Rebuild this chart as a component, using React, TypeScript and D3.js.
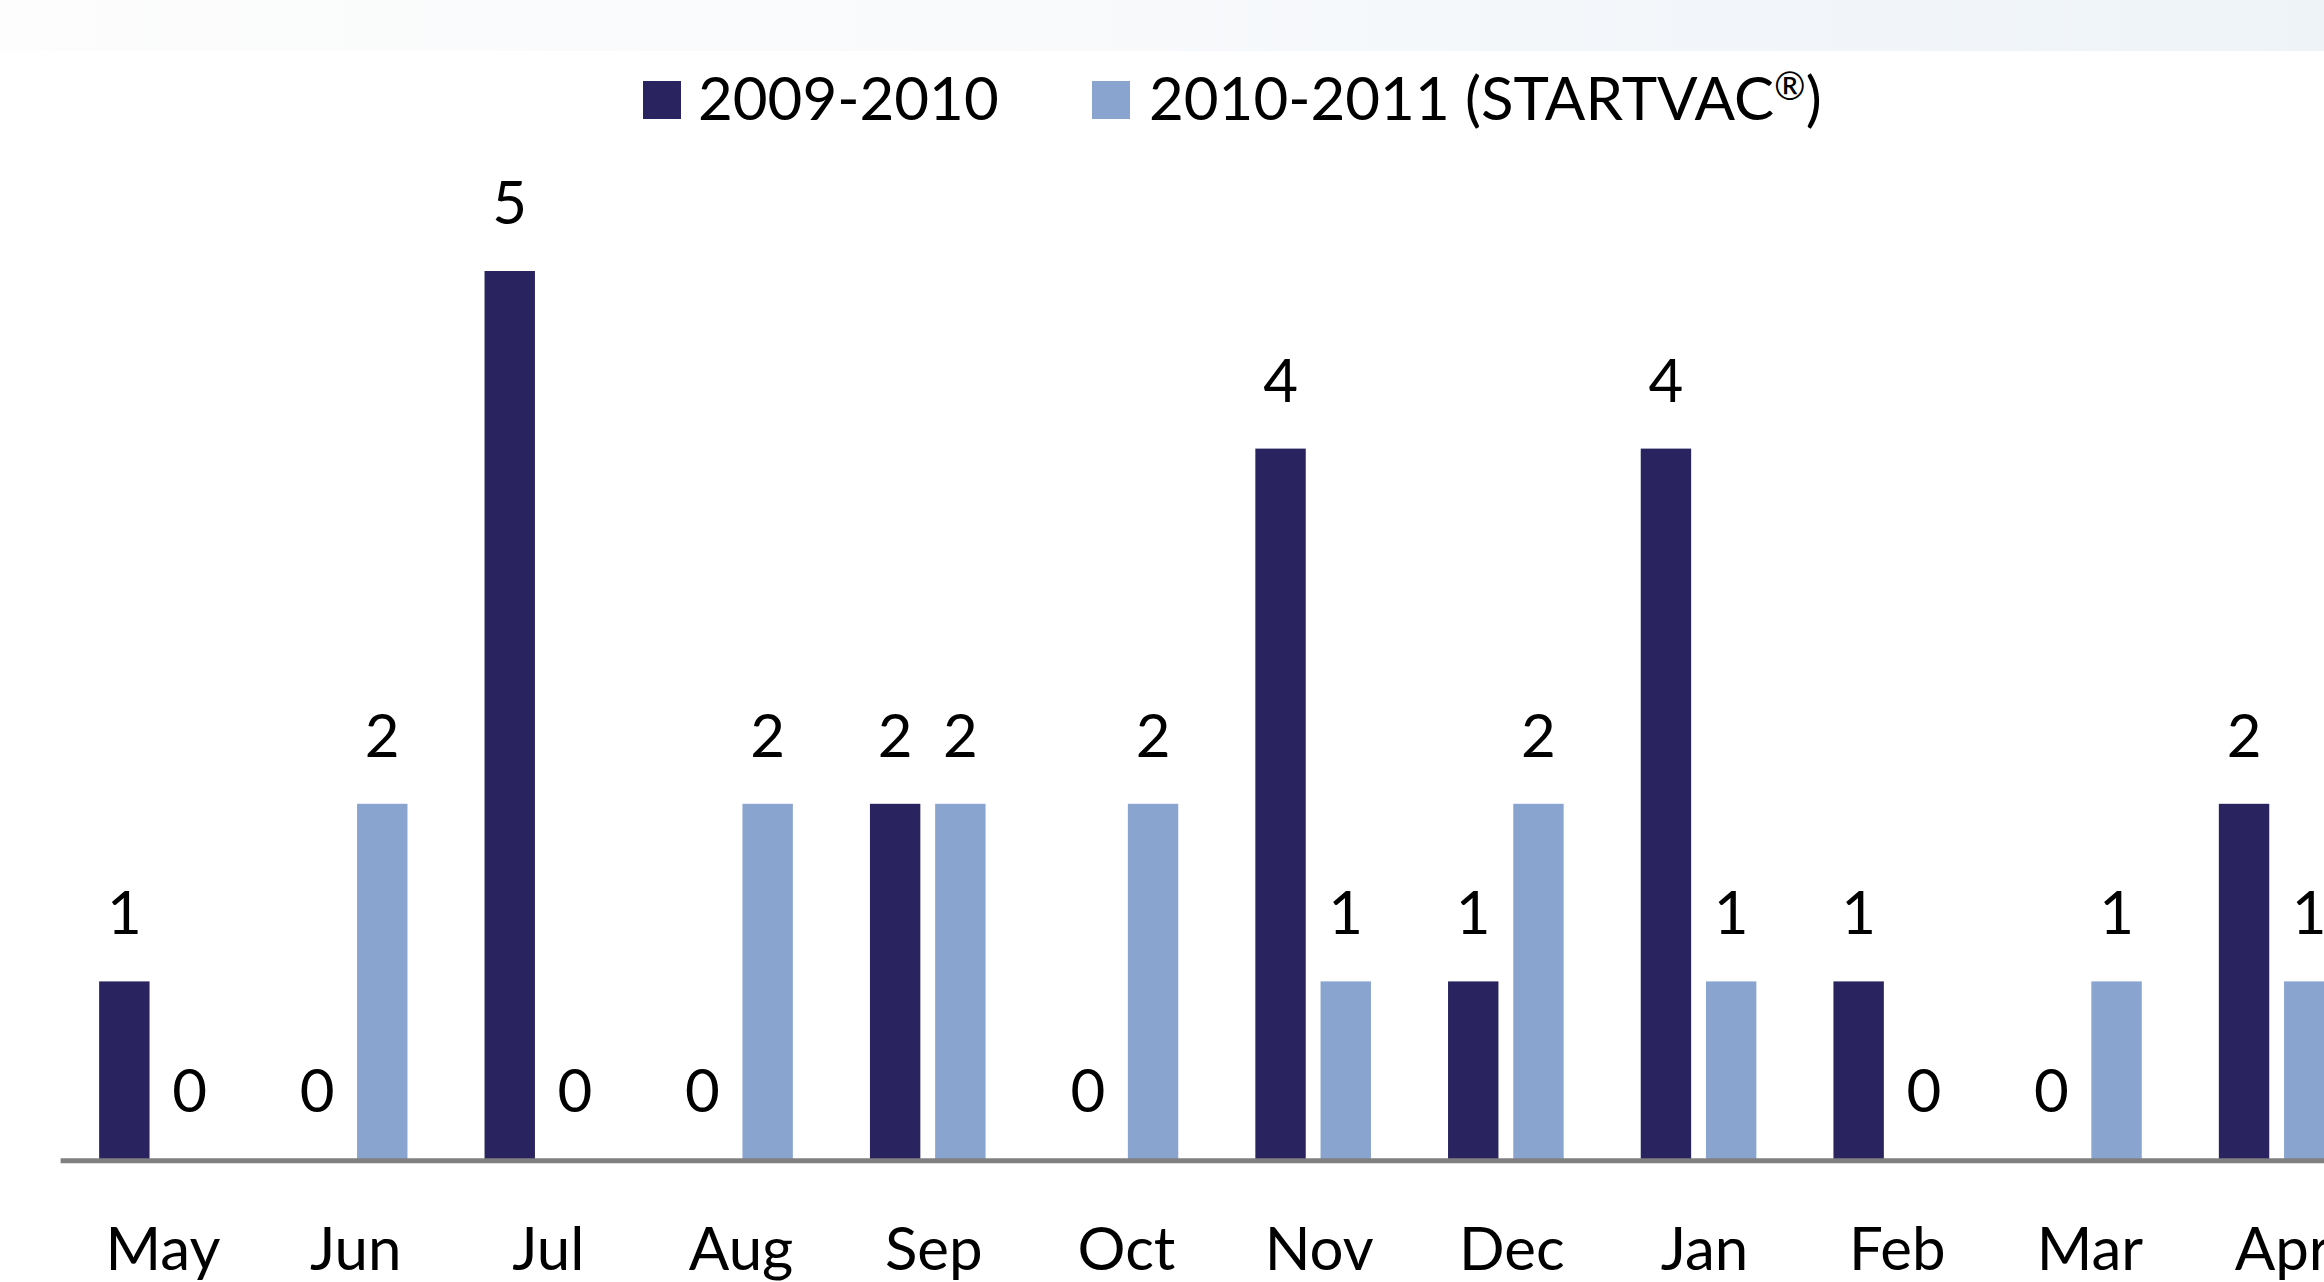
import React from 'react';
import * as d3 from 'd3';

// data
const months = ['May', 'Jun', 'Jul', 'Aug', 'Sep', 'Oct', 'Nov', 'Dec', 'Jan', 'Feb', 'Mar', 'Apr'];
const seriesNames = ['2009-2010', '2010-2011 (STARTVAC®)'];
const season0910 = [1, 0, 5, 0, 2, 0, 4, 1, 4, 1, 0, 2];
const season1011 = [0, 2, 0, 2, 2, 2, 1, 2, 1, 0, 1, 1];
const colors = ['#29235f', '#89a4cf'];

const W = 2324, H = 1282;
const font = 'Lato, Calibri, Carlito, sans-serif';

export default function App() {
  const step = 192.7;
  const x0 = 60.6;
  const x = d3.scaleBand<string>()
    .domain(months)
    .range([x0, x0 + step * months.length])
    .paddingInner(0.4)
    .paddingOuter(0.2);

  const x1 = d3.scaleBand<string>()
    .domain(seriesNames)
    .range([0, x.bandwidth()])
    .paddingInner(0.227);

  const baseY = 1159;
  const y = d3.scaleLinear().domain([0, 5]).range([baseY, baseY - 5 * 177.6]);

  const series = [season0910, season1011];

  return (
    <div style={{ position: 'absolute', left: 0, top: 0 }}>
      <svg width={W} height={H} style={{ display: 'block', background: '#fff' }}>
        <defs>
          <linearGradient id="topband" x1="0" x2="1" y1="0" y2="0">
            <stop offset="0" stopColor="#fdfdfd" />
            <stop offset="0.5" stopColor="#f7f9fb" />
            <stop offset="1" stopColor="#eef3f8" />
          </linearGradient>
        </defs>
        <rect x={0} y={0} width={W} height={51} fill="url(#topband)" />

        {/* legend */}
        <g fontFamily={font} fontSize={60} fill="#000">
          <rect x={643} y={81} width={38} height={38} fill={colors[0]} />
          <text x={698} y={120}>{seriesNames[0]}</text>
          <rect x={1092} y={81} width={38} height={38} fill={colors[1]} />
          <text x={1149} y={120}>
            <tspan>2010-2011 (STARTVAC</tspan>
            <tspan fontSize={38} dy={-20}>®</tspan>
            <tspan dy={20}>)</tspan>
          </text>
        </g>

        {/* bars */}
        {series.map((vals, si) => (
          <g key={si}>
            {months.map((m, i) => {
              const bx = (x(m) as number) + (x1(seriesNames[si]) as number);
              return vals[i] > 0 ? (
                <rect key={m} x={bx} y={y(vals[i])} width={x1.bandwidth()}
                  height={y(0) - y(vals[i])} fill={colors[si]} />
              ) : null;
            })}
          </g>
        ))}

        {/* axis line */}
        <line x1={x0} x2={W} y1={1160.7} y2={1160.7} stroke="#808080" strokeWidth={5} />

        {/* value labels */}
        <g fontFamily={font} fontSize={60} textAnchor="middle" fill="#000">
          {series.map((vals, si) =>
            months.map((m, i) => (
              <text key={si + m}
                x={(x(m) as number) + (x1(seriesNames[si]) as number) + x1.bandwidth() / 2}
                y={y(vals[i]) - 47}>
                {vals[i]}
              </text>
            ))
          )}
        </g>

        {/* month labels */}
        <g fontFamily={font} fontSize={60} textAnchor="middle" fill="#000">
          {months.map(m => (
            <text key={m} x={(x(m) as number) + x.bandwidth() / 2 + 6} y={1270}>{m}</text>
          ))}
        </g>
      </svg>
    </div>
  );
}
